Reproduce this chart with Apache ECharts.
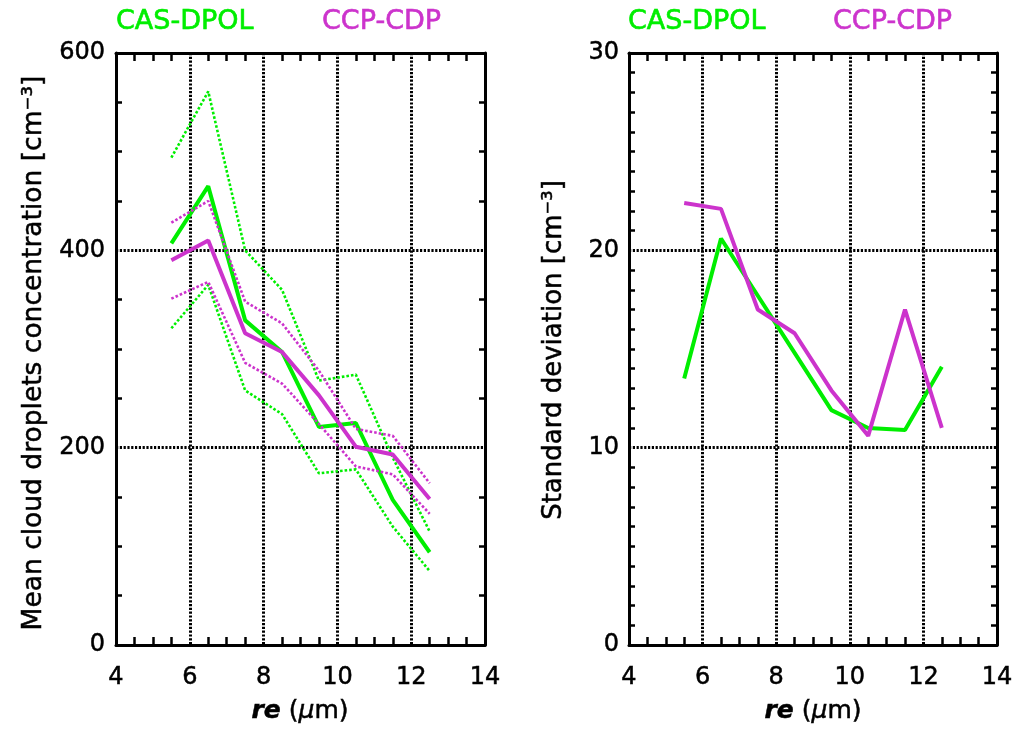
<!DOCTYPE html>
<html>
<head>
<meta charset="utf-8">
<script src="https://cdn.jsdelivr.net/npm/echarts@6/dist/echarts.min.js"></script>
<style>
  html, body { margin: 0; padding: 0; background: #ffffff; }
  #chart { width: 1016px; height: 732px; }
</style>
</head>
<body>
<div id="chart"></div>
<script>
// Effective radius bin centres (µm)
const re = [5.5, 6.5, 7.5, 8.5, 9.5, 10.5, 11.5, 12.5];

// Mean cloud droplet concentration (cm^-3) with ± spread bounds
const casMean  = [407, 465, 329, 297, 221, 225, 147, 94];
const casUpper = [494, 561, 400, 360, 268, 274, 190, 115];
const casLower = [321, 365, 258, 234, 174, 178, 120, 75];
const ccpMean  = [390, 410, 316, 297, 253, 201, 193, 148];
const ccpUpper = [428, 450, 348, 326, 278, 219, 212, 164];
const ccpLower = [351, 368, 286, 265, 224, 181, 173, 133];

// Standard deviation (cm^-3)
const casStd = [13.5, 20.6, 17.7, 14.8, 11.9, 11.0, 10.9, 14.1];
const ccpStd = [22.4, 22.1, 17.0, 15.8, 12.9, 10.6, 17.0, 11.0];

const GREEN = '#00ee00';
const MAGENTA = '#cc33cc';
const FONT = 'DejaVu Sans';

const pairs = (ys) => re.map((x, i) => [x, ys[i]]);

const gridDots = { color: '#000', width: 3, type: [2.2, 1.6] };
const tickFont = { fontSize: 24, fontFamily: FONT, color: '#000', textBorderColor: '#000', textBorderWidth: 0.5 };

function bottomX(gridIndex) {
  return {
    type: 'value', gridIndex, position: 'bottom', min: 4, max: 14, interval: 2,
    axisLine: { show: true, onZero: false, lineStyle: { color: '#000', width: 3 } },
    axisTick: { show: false, inside: true },
    minorTick: { show: true, splitNumber: 4, length: 8, lineStyle: { color: '#000', width: 2.5 } },
    axisLabel: Object.assign({ show: true, margin: 21 }, tickFont),
    splitLine: { show: true, lineStyle: gridDots }
  };
}
function topX(gridIndex) {
  return {
    type: 'value', gridIndex, position: 'top', min: 4, max: 14, interval: 2,
    axisLine: { show: true, onZero: false, lineStyle: { color: '#000', width: 3 } },
    axisTick: { show: false, inside: true },
    minorTick: { show: true, splitNumber: 4, length: 8, lineStyle: { color: '#000', width: 2.5 } },
    axisLabel: { show: false },
    splitLine: { show: false }
  };
}
function leftY(gridIndex, max, interval, minorSplit, margin) {
  return {
    type: 'value', gridIndex, position: 'left', min: 0, max, interval,
    axisLine: { show: true, onZero: false, lineStyle: { color: '#000', width: 3 } },
    axisTick: { show: false, inside: true },
    minorTick: { show: true, splitNumber: minorSplit, length: 6, lineStyle: { color: '#000', width: 2.5 } },
    axisLabel: Object.assign({ show: true, margin }, tickFont),
    splitLine: { show: true, lineStyle: gridDots }
  };
}
function rightY(gridIndex, max, interval, minorSplit) {
  return {
    type: 'value', gridIndex, position: 'right', min: 0, max, interval,
    axisLine: { show: true, onZero: false, lineStyle: { color: '#000', width: 3 } },
    axisTick: { show: false, inside: true },
    minorTick: { show: true, splitNumber: minorSplit, length: 6, lineStyle: { color: '#000', width: 2.5 } },
    axisLabel: { show: false },
    splitLine: { show: false }
  };
}

function line(name, ys, color, xi, yi, dotted) {
  return {
    name, type: 'line', xAxisIndex: xi, yAxisIndex: yi,
    data: pairs(ys), showSymbol: false, symbol: 'none', silent: true,
    lineStyle: dotted ? { color, width: 2.6, type: [2.6, 2] } : { color, width: 4 }
  };
}

const chart = echarts.init(document.getElementById('chart'), null, { renderer: 'canvas' });

const titleText = (text, x, y, color) => ({
  type: 'text', x, y,
  style: {
    text, fill: color, fontSize: 27, fontFamily: FONT, align: 'left', verticalAlign: 'middle',
    stroke: color, lineWidth: 0.6
  }
});
const xName = (cx) => ({
  type: 'text', x: cx, y: 711,
  style: {
    text: '{b|re} ({g|μ}m)', fill: '#000', fontSize: 25, fontFamily: FONT,
    align: 'center', verticalAlign: 'middle', stroke: '#000', lineWidth: 0.5,
    rich: {
      b: { fontSize: 25, fontFamily: FONT, fontWeight: 'bold', fontStyle: 'italic', fill: '#000' },
      g: { fontSize: 25, fontFamily: FONT, fontStyle: 'italic', fill: '#000' }
    }
  }
});
const yName = (text, cx, cy, size) => ({
  type: 'text', x: cx, y: cy, rotation: Math.PI / 2,
  style: {
    text, fill: '#000', fontSize: size, fontFamily: FONT, align: 'center', verticalAlign: 'middle',
    stroke: '#000', lineWidth: 0.5
  }
});

chart.setOption({
  animation: false,
  backgroundColor: '#ffffff',
  grid: [
    { left: 116, top: 53, width: 369, height: 592 },
    { left: 629, top: 53, width: 368, height: 592 }
  ],
  xAxis: [bottomX(0), topX(0), bottomX(1), topX(1)],
  yAxis: [
    leftY(0, 600, 200, 4, 11), rightY(0, 600, 200, 4),
    leftY(1, 30, 10, 10, 10), rightY(1, 30, 10, 10)
  ],
  series: [
    line('CAS-DPOL upper', casUpper, GREEN, 0, 0, true),
    line('CAS-DPOL lower', casLower, GREEN, 0, 0, true),
    line('CAS-DPOL mean', casMean, GREEN, 0, 0, false),
    line('CCP-CDP upper', ccpUpper, MAGENTA, 0, 0, true),
    line('CCP-CDP lower', ccpLower, MAGENTA, 0, 0, true),
    line('CCP-CDP mean', ccpMean, MAGENTA, 0, 0, false),
    line('CAS-DPOL std', casStd, GREEN, 2, 2, false),
    line('CCP-CDP std', ccpStd, MAGENTA, 2, 2, false)
  ],
  graphic: [
    titleText('CAS-DPOL', 116, 22, GREEN),
    titleText('CCP-CDP', 322, 22, MAGENTA),
    titleText('CAS-DPOL', 628, 22, GREEN),
    titleText('CCP-CDP', 833, 22, MAGENTA),
    xName(300),
    xName(813),
    yName('Mean cloud droplets concentration [cm⁻³]', 34, 353, 26.5),
    yName('Standard deviation [cm⁻³]', 554, 350, 26)
  ]
});
</script>
</body>
</html>
